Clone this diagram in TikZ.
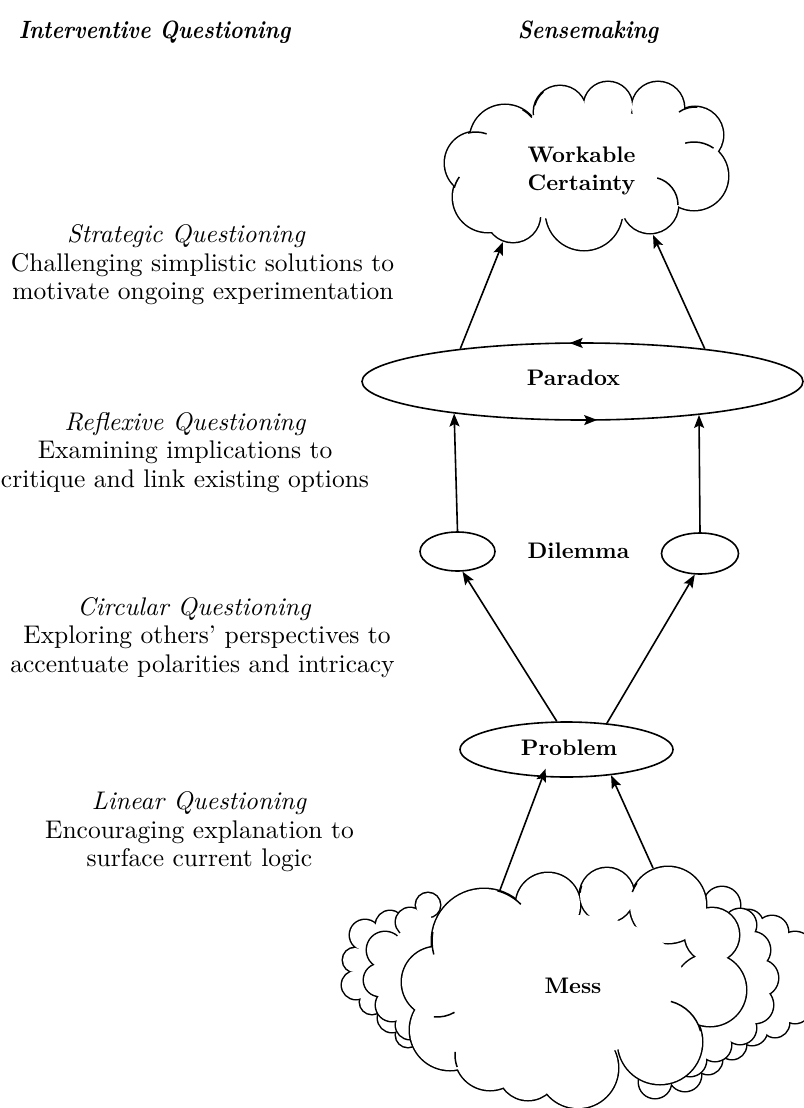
\documentclass[tikz,border=0pt]{standalone}
\usepackage{fontspec}
\setmainfont{lmroman10}[Extension=.otf, UprightFont=*-regular, BoldFont=*-bold, ItalicFont=*-italic, BoldItalicFont=*-bolditalic]
\usetikzlibrary{shapes.geometric, arrows.meta, decorations.markings}

% a cloud layer: union of circles with outline, plus extra white fill
\newcommand\cloudlayer[2]{%
  \foreach \cx/\cy/\cr in {#1} {\draw[line width=3pt] (\cx,\cy) circle[radius=\cr];}
  \foreach \cx/\cy/\cr in {#1} {\fill[white] (\cx,\cy) circle[radius=\cr];}
  \fill[white] #2;
}
% inward tails of cloud arcs
\newcommand\cloudtails[1]{%
  \foreach \cx/\cy/\cr/\aa/\ab in {#1} {\draw[line width=1.5pt] (\cx,\cy) ++(\aa:\cr) arc[start angle=\aa, end angle=\ab, radius=\cr];}
}

\begin{document}
\begin{tikzpicture}[x=1pt,y=-1pt,
  line width=1.6pt,
  arr/.style={-{Stealth[length=13pt,width=10pt,inset=2.5pt]}},
  shp/.style={draw, ellipse, inner sep=0pt, line width=1.6pt},
  lbl/.style={font=\fontsize{22.5}{28}\selectfont\bfseries, inner sep=0pt, anchor=base},
  qt/.style={font=\fontsize{25.5}{28.5}\selectfont\itshape, inner sep=0pt, anchor=base},
  qb/.style={font=\fontsize{25.5}{28.5}\selectfont, inner sep=0pt, anchor=base},
  hd/.style={font=\fontsize{25}{30}\selectfont\bfseries\itshape, inner sep=0pt, anchor=base west},
  circflow/.style={postaction={decorate, decoration={markings,
      mark=at position 0.264 with {\arrow{Stealth[length=13pt,width=10pt,inset=2.5pt]}},
      mark=at position 0.766 with {\arrow{Stealth[length=13pt,width=10pt,inset=2.5pt]}}}}}
]
\useasboundingbox[fill=white] (0,0) rectangle (803,1108);

% headers
\node[hd] (h1) at (18,39) {\scalebox{0.87}[1]{Interventive Questioning}};
\node[hd] (h2) at (517,39) {\scalebox{0.87}[1]{Sensemaking}};

% left texts
\node[qt] (s0) at (186,242) {Strategic Questioning};
\node[qb] (s1) at (202.5,271) {Challenging simplistic solutions to};
\node[qb] (s2) at (203,299.5) {motivate ongoing experimentation};

\node[qt] (r0) at (185,430) {Reflexive Questioning};
\node[qb] (r1) at (185,458.5) {Examining implications to};
\node[qb] (r2) at (185,487) {critique and link existing options};

\node[qt] (c0) at (194,615) {Circular Questioning};
\node[qb] (c1) at (207,643.5) {Exploring others’ perspectives to};
\node[qb] (c2) at (202.5,672) {accentuate polarities and intricacy};

\node[qt] (l0) at (199,809.5) {Linear Questioning};
\node[qb] (l1) at (199.5,838) {Encouraging explanation to};
\node[qb] (l2) at (199.5,866.5) {surface current logic};

% top cloud
\cloudlayer{476/163/31, 488/197/35, 513/215/27, 584/212/38, 650/205/28, 694/176/34, 695/135/28, 658/108/26, 608/106/24, 560/112/26, 505/140/35}{(585,165) ellipse[x radius=100, y radius=58]}
\cloudtails{694/176/34/255/305, 650/205/28/285/360, 476/163/31/255/290, 488/197/35/195/215, 695/135/28/235/275, 560/112/26/195/230, 505/140/35/300/320}

% mess cloud: right back layers
\cloudlayer{722/905/18, 748/925/15, 772/932/16, 795/950/18, 805/980/22, 795/1008/15, 775/1023/14, 752/1030/15, 732/1045/14, 708/1060/14, 685/1075/16, 655/1082/16}{(722,905) -- (748,925) -- (772,932) -- (795,950) -- (805,980) -- (795,1008) -- (775,1023) -- (752,1030) -- (732,1045) -- (708,1060) -- (685,1075) -- (655,1082) -- (650,1000) -- (690,930) -- cycle}
\cloudlayer{740/925/16, 752/950/18, 760/978/18, 755/1005/18, 740/1028/16, 715/1045/16, 690/1060/16}{(740,925) -- (752,950) -- (760,978) -- (755,1005) -- (740,1028) -- (715,1045) -- (690,1060) -- (680,990) -- cycle}
% mess cloud: left back layers
\cloudlayer{390/925/14, 365/935/15, 355/960/12, 356/985/14, 372/1002/12, 392/1018/14, 408/1035/12}{(390,925) -- (365,935) -- (355,960) -- (356,985) -- (372,1002) -- (392,1018) -- (408,1035) -- (440,990) -- cycle}
\cloudlayer{428/905/12, 410/922/14, 385/950/18, 380/980/16, 392/1005/16, 410/1025/14}{(428,905) -- (410,922) -- (385,950) -- (380,980) -- (392,1005) -- (410,1025) -- (450,990) -- cycle}
% mess cloud: front
\cloudlayer{484/941/52, 548/905/32, 607/895/27, 668/905/38, 712/935/27, 710/990/36, 660/1042/42, 578/1068/40, 528/1070/30, 490/1055/35, 450/1030/40, 437/982/35}{(575,985) ellipse[x radius=110, y radius=70]}
\cloudtails{484/941/52/285/315, 484/941/52/165/190, 437/982/35/60/95, 490/1055/35/160/185, 660/1042/42/285/345, 668/905/38/200/215, 607/895/27/185/200}

% ellipses
\node[shp, minimum width=441pt, minimum height=77pt, circflow] (par) at (582.5,381.5) {};
\node[shp, minimum width=75pt, minimum height=39pt] (dilL) at (457.5,551.5) {};
\node[shp, minimum width=77pt, minimum height=41pt] (dilR) at (700,553.5) {};
\node[shp, minimum width=213pt, minimum height=55pt] (prob) at (566.5,749.5) {};

% labels
\node[lbl, align=center, anchor=center] (wct) at (581.5,170.5) {Workable\\Certainty};
\node[lbl] (part) at (573.5,385) {Paradox};
\node[lbl] (dilt) at (578.5,558) {Dilemma};
\node[lbl] (probt) at (569,755) {Problem};
\node[lbl] (messt) at (573,993) {Mess};

% connector ends on the clouds
\coordinate (wcL) at (503,242);
\coordinate (wcR) at (653,235);
\coordinate (msL) at (500,890);
\coordinate (msR) at (653,868);

% connectors
\draw[arr] (par.165.9) -- (wcL);
\draw[arr] (par.15.06) -- (wcR);
\draw[arr] (dilL.north) -- (par.194.2);
\draw[arr] (dilR.north) -- (par.344.7);
\draw[arr] (prob.109.1) -- (dilL.284.35);
\draw[arr] (prob.33.5) -- (dilR.256.9);
\draw[arr, shorten >=-9pt] (msL) -- (prob.229);
\draw[arr] (msR) -- (prob.330);
\end{tikzpicture}
\end{document}
